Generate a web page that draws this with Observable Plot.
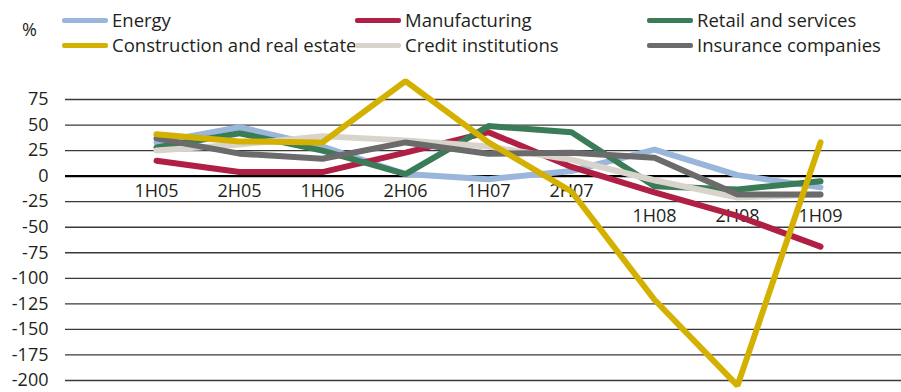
<!DOCTYPE html>
<html><head><meta charset="utf-8">
<script src="https://cdn.jsdelivr.net/npm/d3@7"></script>
<script src="https://cdn.jsdelivr.net/npm/@observablehq/plot@0.6"></script>
<style>
body{margin:0;background:#fff;font-family:"Open Sans",sans-serif;color:#231f20}
#wrap{width:901px;position:relative}
#legend{position:relative;height:60px;font-size:18.5px}
.item{position:absolute;display:flex;align-items:center;white-space:nowrap;line-height:1}
.sw{display:inline-block;width:46px;height:4.5px;margin-right:4px;border-radius:2px}
#pct{position:absolute;left:22px;top:20px;font-size:18px;line-height:1}
</style></head><body>
<div id="wrap"><div id="legend"><span id="pct">%</span></div><div id="chart"></div></div>
<script>
const periods = ["1H05","2H05","1H06","2H06","1H07","2H07","1H08","2H08","1H09"];
const energy        = [33, 48, 29, 2, -3, 5, 26, 1, -11];
const manufacturing = [15, 4, 4, 23, 43, 9, -16, -39, -69];
const retail        = [28, 42, 25, 2, 49, 43, -10, -13, -5];
const construction  = [41, 34, 33, 93, 33, -15, -121, -205, 33];
const credit        = [25, 31, 39, 35, 29, 16, -4, -21, -18];
const insurance     = [37, 22, 17, 33, 22, 23, 18, -18, -18];
const seriesNames = ["Energy","Manufacturing","Retail and services","Construction and real estate","Credit institutions","Insurance companies"];
const seriesColors = ["#9ab6da","#b01f44","#3a7c57","#d4b100","#d8d4cb","#6b6b6b"];
const seriesValues = [energy, manufacturing, retail, construction, credit, insurance];
const yTicks = [-200,-175,-150,-125,-100,-75,-50,-25,0,25,50,75];

// legend
const legend = document.getElementById("legend");
const colLeft = [62, 355, 647], rowTop = [11, 36];
seriesNames.forEach((name, i) => {
  const el = document.createElement("div");
  el.className = "item";
  el.style.left = colLeft[i % 3] + "px";
  el.style.top = rowTop[Math.floor(i / 3)] + "px";
  el.innerHTML = `<span class="sw" style="background:${seriesColors[i]}"></span><span>${name}</span>`;
  legend.appendChild(el);
});

// long data, construction drawn last (on top)
const drawOrder = [0, 1, 2, 4, 5, 3];
const data = [];
drawOrder.forEach(s => periods.forEach((p, i) => data.push({series: seriesNames[s], period: p, value: seriesValues[s][i]})));

const chart = Plot.plot({
  width: 901, height: 332,
  marginLeft: 65, marginRight: 0, marginTop: 39, marginBottom: 12,
  x: {type: "point", domain: periods, range: [110, 865], axis: null},
  y: {domain: [-200, 75], axis: null},
  color: {domain: seriesNames, range: seriesColors},
  style: {fontFamily: "Open Sans, sans-serif", fontSize: "18px", color: "#231f20", background: "#fff"},
  marks: [
    Plot.ruleY(yTicks.filter(v => v !== 0), {stroke: "#3a3a3a", strokeWidth: 1.3}),
    Plot.ruleY([0], {stroke: "#000", strokeWidth: 2.4}),
    Plot.axisY(yTicks, {tickSize: 0, tickPadding: 17, label: null, tickFormat: d => String(d), fontSize: 18, fill: "#231f20"}),
    Plot.text(periods.slice(0, 6), {x: d => d, y: () => 0, dy: 15, fontSize: 18, fill: "#231f20"}),
    Plot.text(periods.slice(6), {x: d => d, y: () => 0, dy: 40, fontSize: 18, fill: "#231f20"}),
    Plot.line(data, {x: "period", y: "value", z: "series", stroke: "series", strokeWidth: 6, strokeLinecap: "round", strokeLinejoin: "miter"})
  ]
});
document.getElementById("chart").appendChild(chart);
</script>
</body></html>
